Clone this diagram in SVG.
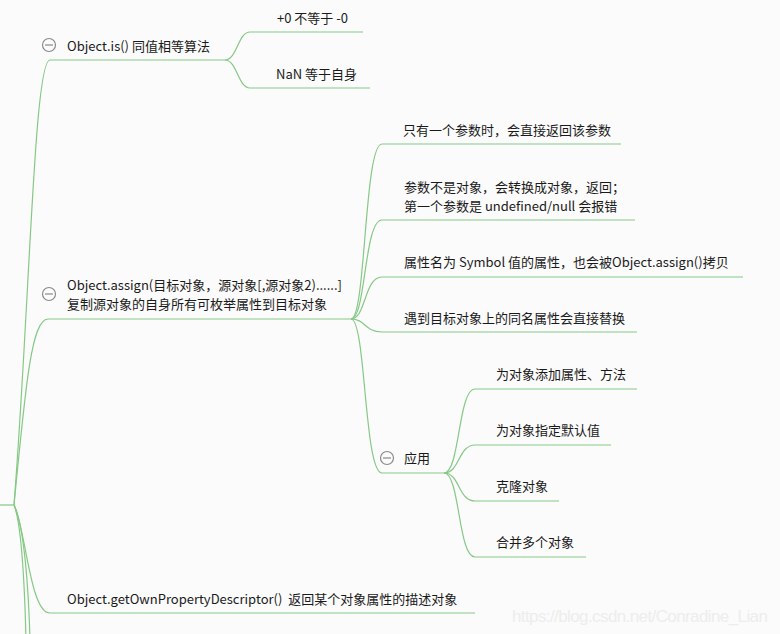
<svg xmlns="http://www.w3.org/2000/svg" width="780" height="634" viewBox="0 0 780 634">
<style>
.bg{fill:#fbfbfb}
.c{fill:none;stroke:#86c986;stroke-width:1.2}
.t{font-family:"Noto Sans CJK SC","Noto Sans",sans-serif;font-size:13px;fill:#1a1a1a}
.ic circle{fill:none;stroke:#8a8a8a;stroke-width:1.2}
.ic line{stroke:#8a8a8a;stroke-width:1.2}
.wm{font-family:"Liberation Sans",sans-serif;font-size:17px;fill:#ededed;letter-spacing:-0.6px}
</style>
<defs>
<g id="minus" class="ic"><circle cx="0" cy="0" r="6.5"/><line x1="-4" y1="0" x2="4" y2="0"/></g>
</defs>
<rect class="bg" x="0" y="0" width="780" height="634"/>
<g id="connectors">
<path class="c" d="M0,505 H14"/>
<path class="c" d="M14,505 C30,300 34,60 50,60 H225"/>
<path class="c" d="M14,505 C26,380 32,319 48,319 H351"/>
<path class="c" d="M14,505 C26,530 30,613 50,613 H475"/>
<path class="c" d="M14,505 C20,520 24,560 26,640"/>
<path class="c" d="M14,505 C22,520 28,570 30,640"/>
<path class="c" d="M225,60 C237,60 238,32 250,32 H363"/>
<path class="c" d="M225,60 C237,60 238,88 250,88 H370"/>
<path class="c" d="M351,319 C366,319 364,144 382,144 H621"/>
<path class="c" d="M351,319 C366,319 364,220 382,220 H635"/>
<path class="c" d="M351,319 C366,319 364,277 382,277 H743"/>
<path class="c" d="M351,319 C366,319 364,332 382,332 H637"/>
<path class="c" d="M351,319 C366,319 364,473 382,473 H444"/>
<path class="c" d="M444,473 C460,473 458,389 475,389 H637"/>
<path class="c" d="M444,473 C460,473 458,445 475,445 H611"/>
<path class="c" d="M444,473 C460,473 458,501 475,501 H559"/>
<path class="c" d="M444,473 C460,473 458,557 475,557 H586"/>
</g>
<g id="node-is">
<use href="#minus" x="49" y="45"/>
<text class="t" x="67" y="51">Object.is() 同值相等算法</text>
</g>
<g id="node-is-1"><text class="t" x="277" y="23">+0 不等于 -0</text></g>
<g id="node-is-2"><text class="t" x="276" y="79">NaN 等于自身</text></g>
<g id="node-assign">
<use href="#minus" x="49" y="294"/>
<text class="t" x="67" y="290">Object.assign(目标对象，源对象[,源对象2)......]</text>
<text class="t" x="67" y="309">复制源对象的自身所有可枚举属性到目标对象</text>
</g>
<g id="node-a1"><text class="t" x="403" y="135">只有一个参数时，会直接返回该参数</text></g>
<g id="node-a2">
<text class="t" x="404" y="192">参数不是对象，会转换成对象，返回；</text>
<text class="t" x="404" y="211">第一个参数是 undefined/null 会报错</text>
</g>
<g id="node-a3"><text class="t" x="404" y="267">属性名为 Symbol 值的属性，也会被Object.assign()拷贝</text></g>
<g id="node-a4"><text class="t" x="404" y="323">遇到目标对象上的同名属性会直接替换</text></g>
<g id="node-apply">
<use href="#minus" x="387" y="458"/>
<text class="t" x="404" y="463">应用</text>
</g>
<g id="node-ap1"><text class="t" x="496" y="379">为对象添加属性、方法</text></g>
<g id="node-ap2"><text class="t" x="496" y="435">为对象指定默认值</text></g>
<g id="node-ap3"><text class="t" x="496" y="491">克隆对象</text></g>
<g id="node-ap4"><text class="t" x="496" y="547">合并多个对象</text></g>
<g id="node-gopd"><text class="t" x="67" y="604" xml:space="preserve" style="white-space:pre">Object.getOwnPropertyDescriptor()  返回某个对象属性的描述对象</text></g>
<text class="wm" x="512" y="622">https://blog.csdn.net/Conradine_Lian</text>
</svg>
